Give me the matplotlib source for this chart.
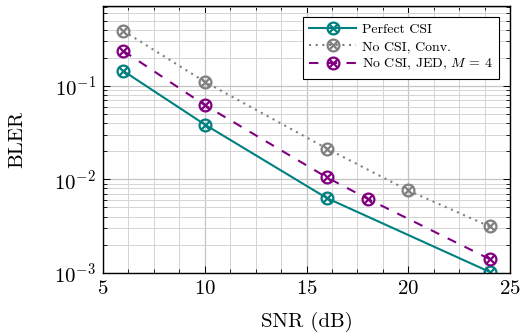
import numpy as np
import matplotlib
matplotlib.use('Agg')
import matplotlib.pyplot as plt
from matplotlib.path import Path
from matplotlib.ticker import AutoMinorLocator, LogLocator, NullFormatter

plt.rcParams['font.family'] = 'serif'
plt.rcParams['font.serif'] = ['cmr10']
plt.rcParams['mathtext.fontset'] = 'cm'
plt.rcParams['axes.formatter.use_mathtext'] = True

# data
snr_perfect = [6, 10, 16, 24]
bler_perfect = [0.145, 0.0387, 0.0063, 0.00102]

snr_conv = [6, 10, 16, 20, 24]
bler_conv = [0.39, 0.111, 0.0214, 0.0076, 0.00313]

snr_jed = [6, 10, 16, 18, 24]
bler_jed = [0.238, 0.0625, 0.0105, 0.0062, 0.0014]

labels = ['Perfect CSI', 'No CSI, Conv.', r'No CSI, JED, $M\,=\,4$']

# circle with a cross inside (otimes)
c = 0.7071
otimes = Path.make_compound_path(
    Path.unit_circle(),
    Path([[-c, -c], [c, c]], [Path.MOVETO, Path.LINETO]),
    Path([[-c, c], [c, -c]], [Path.MOVETO, Path.LINETO]),
)

fig = plt.figure(figsize=(5.21, 3.32), dpi=100)
ax = fig.add_axes([103 / 521, 1 - 272.7 / 332, (510 - 103) / 521, (272.7 - 6) / 332])

mk = dict(marker=otimes, markersize=8.5, mfc='none', mew=1.6)
ax.plot(snr_perfect, bler_perfect, color='#008080', lw=1.5, ls='-', label=labels[0], **mk)
ax.plot(snr_conv, bler_conv, color='#808080', lw=1.5, ls=(0, (1, 2.2)), label=labels[1], **mk)
ax.plot(snr_jed, bler_jed, color='#800080', lw=1.5, ls=(0, (4.5, 4.5)), label=labels[2], **mk)

ax.set_yscale('log')
ax.set_xlim(5, 25)
ax.set_ylim(1e-3, 0.72)
ax.set_xticks([5, 10, 15, 20, 25])
ax.xaxis.set_minor_locator(AutoMinorLocator(4))
ax.yaxis.set_major_locator(LogLocator(base=10, numticks=10))
ax.yaxis.set_minor_locator(LogLocator(base=10, subs=np.arange(2, 10), numticks=20))
ax.yaxis.set_minor_formatter(NullFormatter())

ax.grid(True, which='major', color='#c4c4c4', lw=0.9)
ax.grid(True, which='minor', color='#d4d4d4', lw=0.7)
ax.set_axisbelow(True)

ax.tick_params(which='both', direction='in', top=True, right=True, labelsize=15)
ax.tick_params(which='major', length=5, width=0.7, pad=5)
ax.tick_params(which='minor', length=3, width=0.6)
for s in ax.spines.values():
    s.set_linewidth(1.0)

ax.set_xlabel('SNR (dB)', fontsize=15, labelpad=10)
ax.set_ylabel('BLER', fontsize=15, labelpad=20)

leg = ax.legend(loc='upper right', fontsize=10, frameon=True, fancybox=False,
                edgecolor='black', framealpha=1, borderaxespad=0.8,
                handlelength=3.4, handletextpad=0.4, labelspacing=0.3, borderpad=0.45)
leg.get_frame().set_linewidth(0.8)

fig.savefig('out.png', dpi=100)
